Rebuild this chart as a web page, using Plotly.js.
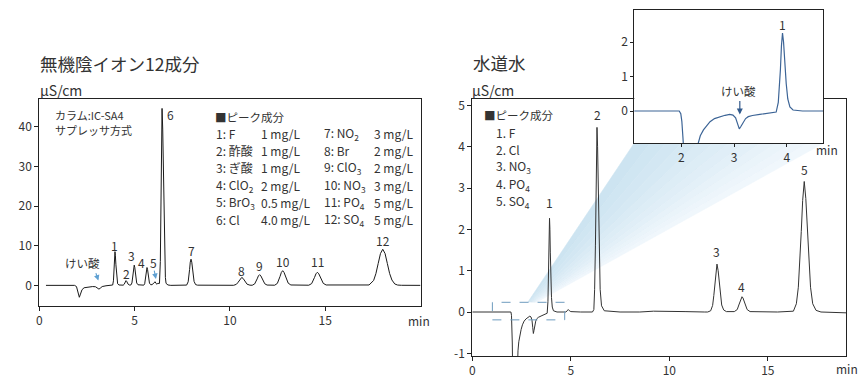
<!DOCTYPE html>
<html>
<head>
<meta charset="utf-8">
<script src="https://cdn.plot.ly/plotly-3.0.1.min.js"></script>
<style>html,body{margin:0;padding:0;background:#fff;}#chart{width:866px;height:386px;}</style>
</head>
<body>
<div id="chart"></div>
<script>
// ---------- DATA ----------
const leftTitle = '無機陰イオン12成分';
const rightTitle = '水道水';
const unitLabel = 'μS/cm';
const timeLabel = 'min';

// Left chromatogram: 12 inorganic anions (time [min], signal [μS/cm])
const leftTime = [0.35, 1.85, 1.95, 2.03, 2.1, 2.16, 2.24, 2.35, 2.55, 2.8, 2.95, 3.05, 3.13, 3.2, 3.3, 3.5, 3.75,
  3.85, 3.89, 3.91, 3.93, 3.95, 3.97, 3.99, 4.02, 4.045, 4.07, 4.11, 4.18,
  4.4, 4.45, 4.5, 4.53, 4.55, 4.58, 4.61, 4.66, 4.72,
  4.8, 4.86, 4.89, 4.92, 4.95, 4.98, 5.01, 5.04, 5.07, 5.11, 5.18, 5.3,
  5.48, 5.53, 5.56, 5.59, 5.62, 5.65, 5.68, 5.71, 5.74, 5.78, 5.85, 5.93,
  6.0, 6.05, 6.08, 6.12, 6.17, 6.22,
  6.305, 6.35, 6.3725, 6.395, 6.4175, 6.44, 6.475, 6.51, 6.545, 6.58, 6.615, 6.65, 6.75, 6.9,
  7.5, 7.73, 7.81, 7.85, 7.885, 7.92, 7.96, 8.0, 8.04, 8.08, 8.12, 8.2, 8.3,
  10.2, 10.34, 10.41, 10.48, 10.55, 10.62, 10.69, 10.76, 10.83, 10.9, 11.05,
  11.17, 11.3, 11.365, 11.43, 11.495, 11.56, 11.625, 11.69, 11.755, 11.83, 11.95,
  12.35, 12.49, 12.56, 12.63, 12.7, 12.77, 12.84, 12.91, 12.98, 13.06, 13.2,
  14.14, 14.29, 14.365, 14.44, 14.515, 14.59, 14.665, 14.74, 14.815, 14.9, 15.05,
  17.3, 17.54, 17.66, 17.78, 17.9, 18.02, 18.14, 18.26, 18.38, 18.5, 18.65, 18.8, 19.0, 20.0];
const leftSignal = [0, 0, -0.3, -1.5, -3.0, -2.2, -1.1, -0.6, -0.4, -0.3, -0.35, -0.7, -0.95, -0.7, -0.3, -0.1, 0,
  0.09, 1.15, 2.76, 5.16, 7.5, 8.5, 7.6, 5.2, 2.9, 1.3, 0.4, 0.1,
  0.05, 0.25, 0.75, 1.1, 1.2, 1.05, 0.7, 0.3, 0.1,
  0.08, 0.6, 1.6, 2.9, 4.3, 5.1, 4.5, 3.0, 1.7, 0.6, 0.15, 0.05,
  0.05, 0.4, 1.4, 2.6, 3.8, 4.5, 4.0, 2.7, 1.5, 0.55, 0.15, 0.2,
  0.6, 0.95, 0.9, 0.5, 0.3, 0.5,
  0.5, 6.0, 14.5, 27.0, 39.4, 44.6, 39.4, 27.0, 14.5, 6.0, 2.0, 0.5, 0.1, 0,
  0, 0.07, 0.9, 2.15, 4.0, 5.85, 6.6, 5.85, 4.0, 2.3, 1.0, 0.2, 0.05,
  0.02, 0.27, 0.65, 1.21, 1.77, 2.0, 1.77, 1.21, 0.65, 0.3, 0.05,
  0.03, 0.37, 0.88, 1.64, 2.38, 2.7, 2.38, 1.64, 0.9, 0.4, 0.08,
  0.04, 0.5, 1.2, 2.24, 3.27, 3.7, 3.27, 2.24, 1.25, 0.55, 0.1,
  0.04, 0.45, 1.07, 2.0, 2.91, 3.3, 2.91, 2.0, 1.1, 0.5, 0.1,
  0.1, 1.23, 2.95, 5.52, 8.03, 9.1, 8.03, 5.52, 3.0, 1.35, 0.35, 0.08, 0.02, 0];

// Left peak list
const leftPeakNo = ['1', '2', '3', '4', '5', '6', '7', '8', '9', '10', '11', '12'];
const leftPeakTime = [3.97, 4.55, 4.98, 5.65, 6.07, 6.44, 7.96, 10.62, 11.56, 12.77, 14.59, 18.02];
const leftPeakHeight = [8.5, 1.2, 5.1, 4.5, 1.0, 44.6, 6.6, 2.0, 2.7, 3.7, 3.3, 9.1];
const leftPeakName = ['F', '酢酸', 'ぎ酸', 'ClO<sub>2</sub>', 'BrO<sub>3</sub>', 'Cl',
  'NO<sub>2</sub>', 'Br', 'ClO<sub>3</sub>', 'NO<sub>3</sub>', 'PO<sub>4</sub>', 'SO<sub>4</sub>'];
const leftPeakConc = ['1 mg/L', '1 mg/L', '1 mg/L', '2 mg/L', '0.5 mg/L', '4.0 mg/L',
  '3 mg/L', '2 mg/L', '2 mg/L', '3 mg/L', '5 mg/L', '5 mg/L'];
const columnInfo = ['カラム:IC-SA4', 'サプレッサ方式'];
const legendHeader = '■ピーク成分';
const silicaLabel = 'けい酸';

// Right chromatogram: tap water
const tapTime = [0, 1.96, 1.99, 2.01, 2.03, 2.045, 2.08, 2.25, 2.29, 2.32, 2.36, 2.42, 2.48, 2.545, 2.63, 2.73, 2.83, 2.92,
  2.98, 3.03, 3.07, 3.1, 3.13, 3.18, 3.22, 3.27, 3.35, 3.49, 3.65, 3.78,
  3.8, 3.84, 3.86, 3.88, 3.9, 3.92, 3.94, 3.96, 3.99, 4.02, 4.06, 4.12, 4.3,
  4.75, 4.82, 4.87, 4.93, 5.0, 5.5,
  6.1, 6.17, 6.21, 6.25, 6.29, 6.31, 6.33, 6.36, 6.4, 6.44, 6.49, 6.56, 6.7, 7.5,
  8.5, 9.2, 10.0, 10.8, 11.8,
  11.95, 12.1, 12.2, 12.26, 12.31, 12.36, 12.42, 12.48, 12.53, 12.59, 12.66, 12.76, 12.9,
  13.3, 13.45, 13.53, 13.59, 13.64, 13.69, 13.74, 13.8, 13.87, 13.95, 14.1, 15.5,
  16.3, 16.45, 16.55, 16.63, 16.7, 16.77, 16.85, 16.93, 17.0, 17.08, 17.17, 17.28, 17.45, 17.7, 18.97];
const tapSignal = [0, 0, -0.08, -0.3, -0.75, -1.3, -2.0, -2.0, -1.2, -0.94, -0.72, -0.55, -0.42, -0.31, -0.22, -0.165, -0.125, -0.1,
  -0.12, -0.2, -0.38, -0.52, -0.45, -0.31, -0.22, -0.165, -0.13, -0.097, -0.07, -0.05,
  -0.03, 0.25, 0.6, 1.2, 1.9, 2.27, 2.0, 1.45, 0.8, 0.35, 0.12, 0.03, 0,
  0, 0.03, 0.06, 0.03, 0.01, 0,
  0, 0.06, 0.55, 1.6, 3.1, 3.95, 4.47, 4.0, 2.7, 1.4, 0.55, 0.15, 0.03, 0,
  0, 0.02, 0.02, 0.01, 0,
  0, 0.03, 0.16, 0.4, 0.7, 1.0, 1.16, 1.0, 0.72, 0.4, 0.17, 0.05, 0.01,
  0.01, 0.06, 0.17, 0.27, 0.34, 0.37, 0.34, 0.25, 0.14, 0.06, 0.01, 0,
  0.02, 0.2, 0.6, 1.2, 1.95, 2.7, 3.16, 2.75, 2.05, 1.25, 0.6, 0.2, 0.04, 0, -0.02];
const tapPeakNo = ['1', '2', '3', '4', '5'];
const tapPeakTime = [3.92, 6.33, 12.42, 13.69, 16.85];
const tapPeakHeight = [2.27, 4.47, 1.16, 0.37, 3.16];
const tapPeakName = ['F', 'Cl', 'NO<sub>3</sub>', 'PO<sub>4</sub>', 'SO<sub>4</sub>'];

// Tick values / labels
const leftXTicks = [0, 5, 10, 15];
const leftYTicks = [0, 10, 20, 30, 40];
const rightXTicks = [0, 5, 10, 15];
const rightYTicks = [-1, 0, 1, 2, 3, 4, 5];
const rightYTickText = ['-1', '0', '1', '2', '3', '4', '5'];
const insetXTicks = [2, 3, 4];
const insetYTicks = [0, 1, 2];

// ---------- LAYOUT HELPERS ----------
const W = 866, H = 386;
const FONT = '"Noto Sans CJK JP", "Noto Sans", sans-serif';
const TXT = '#333333';
const px = x => x / W;
const py = y => 1 - y / H;

function note(x, y, text, size, xanchor) {
  return {xref: 'paper', yref: 'paper', x: px(x), y: py(y), text: text, showarrow: false,
    xanchor: xanchor || 'left', yanchor: 'middle', font: {family: FONT, size: size || 12, color: TXT}};
}

const annotations = [];
// titles and units
annotations.push(note(38, 63, leftTitle, 17.5));
annotations.push(note(38, 90, unitLabel, 14));
annotations.push(note(471, 62, rightTitle, 17.5));
annotations.push(note(470, 90, unitLabel, 14));
annotations.push(note(419, 320, timeLabel, 12, 'center'));
annotations.push(note(847, 368, timeLabel, 12, 'center'));
annotations.push(note(827, 149, timeLabel, 12, 'center'));

// left column info + legend
annotations.push(note(53, 115, columnInfo[0], 11));
annotations.push(note(53, 130, columnInfo[1], 11));
annotations.push(note(213, 117, legendHeader, 11.5));
for (let i = 0; i < 6; i++) {
  const y = 133.5 + i * 17.2;
  annotations.push(note(214, y, leftPeakNo[i] + ': ' + leftPeakName[i], 12));
  annotations.push(note(259, y, leftPeakConc[i], 12));
  annotations.push(note(322, y, leftPeakNo[i + 6] + ': ' + leftPeakName[i + 6], 12));
  annotations.push(note(372, y, leftPeakConc[i + 6], 12));
}
// right legend
annotations.push(note(482, 115, legendHeader, 11.5));
for (let i = 0; i < 5; i++) {
  annotations.push(note(494, 132.5 + i * 17.2, tapPeakNo[i] + '. ' + tapPeakName[i], 12));
}

// peak number labels (offsets in pixels from apex)
const leftShift = [[-0.7, 6.6], [0, 7.2], [-2.5, 10.1], [-5, 5.2], [-1.7, 19], [8, -5.8], [0, 8.4], [0, 7.4], [0, 8.9], [0, 9.3], [0, 10.9], [0, 9.2]];
leftPeakNo.forEach((n, i) => annotations.push({xref: 'x', yref: 'y', x: leftPeakTime[i], y: leftPeakHeight[i], text: n,
  showarrow: false, xanchor: 'center', yanchor: 'middle', xshift: leftShift[i][0], yshift: leftShift[i][1],
  font: {family: FONT, size: 12, color: TXT}}));
const rightShift = [15.5, 12.4, 12.4, 10.7, 12.2];
tapPeakNo.forEach((n, i) => annotations.push({xref: 'x2', yref: 'y2', x: tapPeakTime[i], y: tapPeakHeight[i], text: n,
  showarrow: false, xanchor: 'center', yanchor: 'middle', yshift: rightShift[i],
  font: {family: FONT, size: 12, color: TXT}}));
annotations.push({xref: 'x3', yref: 'y3', x: tapPeakTime[0], y: tapPeakHeight[0], text: tapPeakNo[0],
  showarrow: false, xanchor: 'center', yanchor: 'middle', yshift: 8.8, font: {family: FONT, size: 12, color: TXT}});

// silicic acid labels and arrows
annotations.push({xref: 'x', yref: 'y', x: 2.29, y: 5.55, text: silicaLabel, showarrow: false,
  xanchor: 'center', yanchor: 'middle', font: {family: FONT, size: 11.5, color: TXT}});
const lightArrow = 'rgb(95,160,210)';
annotations.push({xref: 'x', yref: 'y', x: 3.10, y: 1.2, text: '', showarrow: true, arrowhead: 2, arrowsize: 1,
  arrowwidth: 1.1, arrowcolor: lightArrow, ax: -3, ay: -9, standoff: 0});
annotations.push({xref: 'x', yref: 'y', x: 6.12, y: 1.6, text: '', showarrow: true, arrowhead: 2, arrowsize: 1,
  arrowwidth: 1.1, arrowcolor: lightArrow, ax: -2, ay: -10, standoff: 0});
annotations.push({xref: 'x3', yref: 'y3', x: 3.08, y: 0.58, text: silicaLabel, showarrow: false,
  xanchor: 'center', yanchor: 'middle', font: {family: FONT, size: 11.5, color: TXT}});
annotations.push({xref: 'x3', yref: 'y3', x: 3.11, y: -0.1, text: '', showarrow: true, arrowhead: 2, arrowsize: 1,
  arrowwidth: 1.2, arrowcolor: 'rgb(50,90,140)', ax: 0, ay: -15, standoff: 0});

// ---------- SHAPES ----------
const shapes = [];
// gradient wedge from the dashed box to the inset (paper coordinates)
const N = 12;
const b0 = 528, b1 = 537, by = 302, t0 = 634, t1 = 823, ty = 143.5;
const c0 = [203, 227, 241], c1 = [242, 248, 252];
for (let i = 0; i < N; i++) {
  const f0 = i / N, f1 = (i + 1) / N, fm = (i + 0.5) / N;
  const xb0 = b0 + (b1 - b0) * f0, xb1 = b0 + (b1 - b0) * f1;
  const xt0 = t0 + (t1 - t0) * f0, xt1 = t0 + (t1 - t0) * f1;
  const c = c0.map((v, k) => Math.round(v + (c1[k] - v) * fm));
  const col = 'rgb(' + c.join(',') + ')';
  shapes.push({type: 'path', xref: 'paper', yref: 'paper', layer: 'below',
    path: 'M' + px(xb0) + ',' + py(by) + ' L' + px(xt0) + ',' + py(ty) + ' L' + px(xt1) + ',' + py(ty) + ' L' + px(xb1) + ',' + py(by) + ' Z',
    fillcolor: col, line: {width: 0.6, color: col}});
}
// dashed zoom box on the tap-water chart
shapes.push({type: 'rect', xref: 'x2', yref: 'y2', x0: 1.02, x1: 4.69, y0: -0.19, y1: 0.235,
  line: {color: 'rgb(110,155,190)', width: 1, dash: 'dash'}, layer: 'above'});

// ---------- TRACES ----------
const traces = [
  {x: leftTime, y: leftSignal, type: 'scatter', mode: 'lines', xaxis: 'x', yaxis: 'y',
    line: {color: '#1a1a1a', width: 1}, hoverinfo: 'skip'},
  {x: tapTime, y: tapSignal, type: 'scatter', mode: 'lines', xaxis: 'x2', yaxis: 'y2',
    line: {color: '#333333', width: 1}, hoverinfo: 'skip'},
  {x: tapTime, y: tapSignal, type: 'scatter', mode: 'lines', xaxis: 'x3', yaxis: 'y3',
    line: {color: 'rgb(60,100,150)', width: 1.2}, hoverinfo: 'skip'}
];

function axis(extra) {
  return Object.assign({showgrid: false, zeroline: false, showline: true, mirror: true, linecolor: '#222', linewidth: 1,
    ticks: 'outside', ticklen: 4, tickwidth: 1, tickcolor: '#222', tickmode: 'array',
    tickfont: {family: FONT, size: 12, color: TXT}, fixedrange: true, automargin: false}, extra);
}

const layout = {
  width: W, height: H, margin: {l: 0, r: 0, t: 0, b: 0},
  paper_bgcolor: '#ffffff', plot_bgcolor: '#ffffff', showlegend: false,
  xaxis: axis({domain: [px(39.3), px(420.5)], range: [0, 20], tickvals: leftXTicks, anchor: 'y'}),
  yaxis: axis({domain: [py(306), py(99.3)], range: [-5.2, 46.9], tickvals: leftYTicks, anchor: 'x'}),
  xaxis2: axis({domain: [px(472.3), px(846)], range: [0, 18.97], tickvals: rightXTicks, anchor: 'y2'}),
  yaxis2: axis({domain: [py(356), py(99)], range: [-1.065, 5.157], tickvals: rightYTicks, ticktext: rightYTickText, anchor: 'x2'}),
  xaxis3: axis({domain: [px(634.3), px(823.3)], range: [1.108, 4.694], tickvals: insetXTicks, anchor: 'y3', ticklen: 3}),
  yaxis3: axis({domain: [py(143.3), py(10)], range: [-0.94, 2.94], tickvals: insetYTicks, anchor: 'x3', ticklen: 3}),
  annotations: annotations,
  shapes: shapes
};

Plotly.newPlot('chart', traces, layout, {staticPlot: true, displayModeBar: false});
</script>
</body>
</html>
